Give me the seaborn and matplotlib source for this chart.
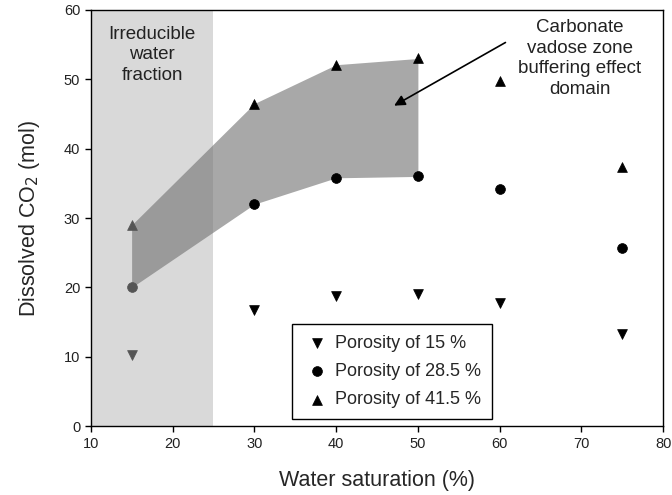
import pandas as pd
import matplotlib
matplotlib.use("Agg")
import matplotlib.pyplot as plt
import seaborn as sns

# data
saturation = [15, 30, 40, 50, 60, 75]
por_15 = [10.3, 16.7, 18.7, 19.0, 17.8, 13.3]
por_285 = [20.0, 32.0, 35.8, 36.0, 34.2, 25.7]
por_415 = [29.0, 46.5, 52.1, 53.0, 49.8, 37.4]
labels = ["Porosity of 15 %", "Porosity of 28.5 %", "Porosity of 41.5 %"]
markers = ["v", "o", "^"]
irreducible_limit = 25
domain_end = 50

sns.set_style("ticks")
plt.rcParams["font.family"] = ["Liberation Sans", "DejaVu Sans"]

fig = plt.figure(figsize=(6.72, 4.95), dpi=100)
ax = fig.add_axes([0.135, 0.139, 0.852, 0.841])

# irreducible water fraction band
ax.axvspan(10, irreducible_limit, color="#d9d9d9", lw=0, zorder=0)

# buffering effect domain
dom = [i for i, s in enumerate(saturation) if s <= domain_end]
ax.fill_between([saturation[i] for i in dom], [por_285[i] for i in dom],
                [por_415[i] for i in dom], color="#757575", alpha=0.63,
                lw=0, zorder=1)

for vals, lab, mk in zip([por_15, por_285, por_415], labels, markers):
    df = pd.DataFrame({"sat": saturation, "co2": vals})
    inside = df[df["sat"] < irreducible_limit]
    outside = df[df["sat"] >= irreducible_limit]
    sns.scatterplot(data=outside, x="sat", y="co2", marker=mk, s=50,
                    color="black", edgecolor="black", linewidth=0.5,
                    label=lab, ax=ax, zorder=3)
    sns.scatterplot(data=inside, x="sat", y="co2", marker=mk, s=50,
                    color="#555555", edgecolor="#555555", linewidth=0.5,
                    ax=ax, zorder=3)

ax.text(17.5, 53.5, "Irreducible\nwater\nfraction", ha="center", va="center",
        fontsize=13.5, color="#222222", linespacing=1.3)
ax.text(69.8, 53.0, "Carbonate\nvadose zone\nbuffering effect\ndomain",
        ha="center", va="center", fontsize=13.5, color="#222222",
        linespacing=1.3)
ax.annotate("", xy=(46.8, 46.0), xytext=(61.0, 55.5),
            arrowprops=dict(arrowstyle="-|>", color="black", lw=1.2,
                            mutation_scale=16))

ax.set_xlim(10, 80)
ax.set_ylim(0, 60)
ax.set_xticks(range(10, 81, 10))
ax.set_yticks(range(0, 61, 10))
ax.tick_params(labelsize=10.5, length=4, width=1, color="black",
               labelcolor="#222222")
for sp in ax.spines.values():
    sp.set_visible(True)
    sp.set_color("black")
    sp.set_linewidth(1)

ax.set_xlabel("Water saturation (%)", fontsize=15.5, labelpad=14)
ax.set_ylabel("Dissolved CO$_2$ (mol)", fontsize=15.5, labelpad=16)

leg = ax.legend(loc="lower left", bbox_to_anchor=(0.351, 0.017),
                borderaxespad=0, fontsize=13, frameon=True, fancybox=False,
                handletextpad=0.2, labelspacing=0.62, borderpad=0.6,
                handlelength=1.6)
leg.get_frame().set_edgecolor("black")
leg.get_frame().set_linewidth(1)
leg.get_frame().set_alpha(1)

fig.savefig("out.png", dpi=100)
